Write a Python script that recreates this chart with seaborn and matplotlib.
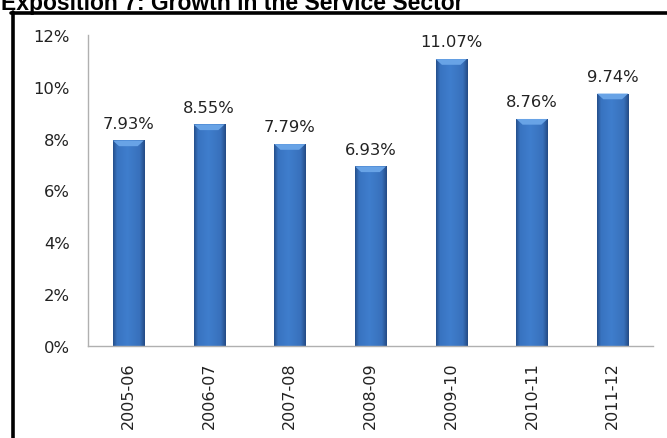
import numpy as np
import pandas as pd
import matplotlib
matplotlib.use("Agg")
import matplotlib.pyplot as plt
from matplotlib.colors import LinearSegmentedColormap
from matplotlib.lines import Line2D
from matplotlib.ticker import FuncFormatter, MultipleLocator
import seaborn as sns

years = ["2005-06", "2006-07", "2007-08", "2008-09", "2009-10", "2010-11", "2011-12"]
growth = [7.93, 8.55, 7.79, 6.93, 11.07, 8.76, 9.74]
title = "Exposition 7: Growth in the Service Sector"

df = pd.DataFrame({"year": years, "growth": growth})

sns.set_theme(style="white")
plt.rcParams["font.family"] = ["DejaVu Sans"]

fig = plt.figure(figsize=(6.67, 4.39), dpi=100)
ax = fig.add_axes([88 / 667, 1 - 347 / 439, (653 - 88) / 667, (347 - 36) / 439])

sns.barplot(data=df, x="year", y="growth", color="#3b78c8", width=0.385,
            saturation=1, ax=ax, edgecolor="none")

# shaded fill for each bar, clipped to the bar rectangle
shade = LinearSegmentedColormap.from_list(
    "bar", [(0.0, "#25508c"), (0.12, "#3873c0"), (0.45, "#3f7ecd"),
            (0.85, "#3870bb"), (1.0, "#244b85")])
grad = np.linspace(0, 1, 64).reshape(1, -1)
for p in ax.patches:
    x0, w, h = p.get_x(), p.get_width(), p.get_height()
    im = ax.imshow(grad, cmap=shade, aspect="auto", extent=[x0, x0 + w, 0, h],
                   zorder=p.get_zorder() + 0.1, interpolation="bilinear")
    im.set_clip_path(p)
    cap = h - 0.22
    ax.fill([x0, x0 + w, x0 + w * 0.8, x0 + w * 0.2], [h, h, cap, cap],
            color="#68a3e6", zorder=p.get_zorder() + 0.2, lw=0)

for i, v in enumerate(growth):
    ax.annotate(f"{v:.2f}%", (i, v), xytext=(0, 7), textcoords="offset points",
                ha="center", va="bottom", fontsize=11.8, color="#222222")

ax.set_xlim(-0.5, len(years) - 0.5)
ax.set_ylim(0, 12)
ax.yaxis.set_major_locator(MultipleLocator(2))
ax.yaxis.set_major_formatter(FuncFormatter(lambda v, _: f"{v:.0f}%"))
ax.set_xlabel("")
ax.set_ylabel("")
ax.tick_params(axis="y", length=0, pad=13, labelsize=11.8, labelcolor="#222222")
ax.tick_params(axis="x", length=0, pad=11, labelsize=11.5, labelcolor="#222222",
               labelrotation=90)
for side in ["top", "right"]:
    ax.spines[side].set_visible(False)
for side in ["left", "bottom"]:
    ax.spines[side].set_color("#b0b0b0")
    ax.spines[side].set_linewidth(1.0)

# chart frame
fig.add_artist(Line2D([12.5 / 667, 12.5 / 667], [0, 1 - 13 / 439],
                      transform=fig.transFigure, color="black", lw=2.6))
fig.add_artist(Line2D([11 / 667, 1], [1 - 14 / 439, 1 - 14 / 439],
                      transform=fig.transFigure, color="black", lw=2.6))

fig.text(1 / 667, 1 - 10 / 439, title, fontsize=16.5, fontweight="bold",
         family=["Liberation Sans"], ha="left", va="baseline", color="black")

fig.savefig("out.png", dpi=100)
